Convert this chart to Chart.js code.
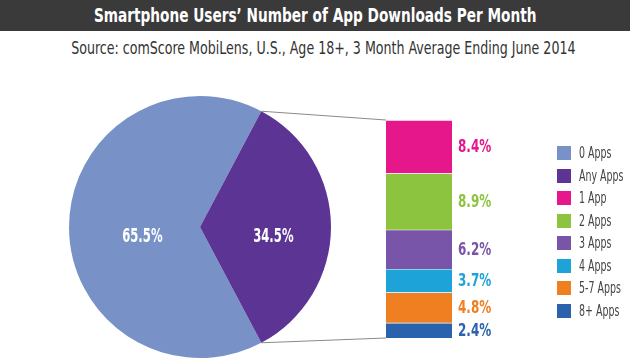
<!DOCTYPE html>
<html lang="en">
<head>
  <meta charset="UTF-8">
  <title>Smartphone Users' Number of App Downloads Per Month</title>
  <script src="https://cdn.jsdelivr.net/npm/chart.js"></script>
  <style>
    body { margin: 0; background: #fff; }
    #wrap { position: relative; width: 630px; height: 364px; overflow: hidden; background: #fff;
      font-family: "DejaVu Sans Condensed", "DejaVu Sans", sans-serif; }
    #head { position: absolute; left: 0; top: 0; width: 630px; height: 31px; background: #3a3a3a;
      color: #fff; font-weight: bold; font-size: 20px; line-height: 31px; text-align: center; white-space: nowrap; }
    #sub { position: absolute; left: 0; top: 37px; width: 630px; text-align: center;
      color: #333; font-size: 18px; white-space: nowrap; }
    .narrow { display: inline-block; transform: scaleX(0.76); }
    #sub .narrow { transform: scaleX(0.78); }
    canvas { position: absolute; }
    #pieCanvas { left: 0; top: 80px; }
    #barCanvas { left: 250px; top: 80px; }
    #legend { position: absolute; left: 557px; top: 142px; margin: 0; padding: 0; list-style: none;
      font-size: 15px; color: #444; white-space: nowrap; }
    #legend li { height: 22.5px; display: flex; align-items: center; }
    #legend span.sw { display: inline-block; width: 14px; height: 14px; margin-right: 8px; }
    #legend span.tx { display: inline-block; transform: scaleX(0.7); transform-origin: left center; }
  </style>
</head>
<body>
<div id="wrap">
  <div id="head"><span class="narrow">Smartphone Users’ Number of App Downloads Per Month</span></div>
  <div id="sub"><span class="narrow">Source: comScore MobiLens, U.S., Age 18+, 3 Month Average Ending June 2014</span></div>
  <canvas id="pieCanvas" width="370" height="284"></canvas>
  <canvas id="barCanvas" width="380" height="284"></canvas>
  <ul id="legend"></ul>
</div>
<script>
  // pie: share of users with no downloads vs any downloads
  const sliceLabels = ['0 Apps', 'Any Apps'];
  const sliceValues = [65.5, 34.5];
  const sliceColors = ['#7892c8', '#5c3494'];

  // breakdown of the "Any Apps" slice
  const appLabels = ['1 App', '2 Apps', '3 Apps', '4 Apps', '5-7 Apps', '8+ Apps'];
  const appValues = [8.4, 8.9, 6.2, 3.7, 4.8, 2.4];
  const appColors = ['#e5178b', '#8cc43f', '#7855a8', '#1ea3d8', '#f07f22', '#2b62ad'];

  const fontFamily = '"DejaVu Sans Condensed", "DejaVu Sans", sans-serif';

  // legend
  const legend = document.getElementById('legend');
  sliceLabels.concat(appLabels).forEach((name, i) => {
    const color = sliceColors.concat(appColors)[i];
    const li = document.createElement('li');
    li.innerHTML = '<span class="sw" style="background:' + color + '"></span><span class="tx">' + name + '</span>';
    legend.appendChild(li);
  });

  // squeezed text, the original uses a condensed face
  function narrowText(ctx, text, x, y, sx) {
    ctx.save();
    ctx.translate(x, y);
    ctx.scale(sx, 1);
    ctx.fillText(text, 0, 0);
    ctx.restore();
  }

  // Any Apps slice centred on 3 o'clock
  const total = sliceValues.reduce((a, b) => a + b, 0);
  const anyAngle = sliceValues[1] / total * 360;
  const rotation = 90 - anyAngle / 2 - sliceValues[0] / total * 360;

  const pieLabelPlugin = {
    id: 'pieLabels',
    afterDatasetsDraw(chart) {
      const ctx = chart.ctx;
      const meta = chart.getDatasetMeta(0);
      const frac = [0.44, 0.56];
      ctx.save();
      ctx.fillStyle = '#fff';
      ctx.font = 'bold 19px ' + fontFamily;
      ctx.textAlign = 'center';
      ctx.textBaseline = 'middle';
      meta.data.forEach((arc, i) => {
        const mid = (arc.startAngle + arc.endAngle) / 2;
        const x = arc.x + Math.cos(mid) * arc.outerRadius * frac[i];
        const y = arc.y + Math.sin(mid) * arc.outerRadius * frac[i] + 10;
        narrowText(ctx, sliceValues[i].toFixed(1) + '%', x, y, 0.68);
      });
      ctx.restore();
    }
  };

  const pieChart = new Chart(document.getElementById('pieCanvas'), {
    type: 'pie',
    data: {
      labels: sliceLabels,
      datasets: [{ data: sliceValues, backgroundColor: sliceColors, borderWidth: 0, hoverOffset: 0 }]
    },
    options: {
      responsive: false,
      animation: false,
      rotation: rotation,
      radius: 131,
      layout: { padding: { left: 60, right: 30, top: 10, bottom: 0 } },
      plugins: { legend: { display: false } }
    },
    plugins: [pieLabelPlugin]
  });

  const barExtrasPlugin = {
    id: 'barExtras',
    afterDatasetsDraw(chart) {
      const ctx = chart.ctx;
      ctx.save();
      let top = Infinity, bottom = -Infinity, left = 0, right = 0;
      ctx.font = 'bold 18px ' + fontFamily;
      ctx.textBaseline = 'middle';
      ctx.textAlign = 'left';
      chart.data.datasets.forEach((ds, i) => {
        const bar = chart.getDatasetMeta(i).data[0];
        const y0 = Math.min(bar.y, bar.base), y1 = Math.max(bar.y, bar.base);
        top = Math.min(top, y0);
        bottom = Math.max(bottom, y1);
        left = bar.x - bar.width / 2;
        right = bar.x + bar.width / 2;
        ctx.fillStyle = ds.backgroundColor;
        narrowText(ctx, ds.data[0].toFixed(1) + '%', right + 6, (y0 + y1) / 2 + 1, 0.74);
      });
      // connectors from the Any Apps slice to the stacked bar
      const arc = pieChart.getDatasetMeta(0).data[1];
      const pieCv = pieChart.canvas, barCv = chart.canvas;
      const dx = pieCv.offsetLeft - barCv.offsetLeft, dy = pieCv.offsetTop - barCv.offsetTop;
      const p1 = [arc.x + Math.cos(arc.startAngle) * arc.outerRadius + dx, arc.y + Math.sin(arc.startAngle) * arc.outerRadius + dy];
      const p2 = [arc.x + Math.cos(arc.endAngle) * arc.outerRadius + dx, arc.y + Math.sin(arc.endAngle) * arc.outerRadius + dy];
      ctx.strokeStyle = '#8a8a8a';
      ctx.lineWidth = 1;
      ctx.beginPath();
      ctx.moveTo(p1[0], p1[1]);
      ctx.lineTo(left, top);
      ctx.moveTo(p2[0], p2[1]);
      ctx.lineTo(left, bottom);
      ctx.stroke();
      ctx.restore();
    }
  };

  new Chart(document.getElementById('barCanvas'), {
    type: 'bar',
    data: {
      labels: ['Any Apps'],
      datasets: appLabels.map((name, i) => ({
        label: name,
        data: [appValues[i]],
        backgroundColor: appColors[i],
        borderColor: '#ffffff',
        borderWidth: { top: 1, bottom: 0, left: 0, right: 0 },
        borderSkipped: false
      }))
    },
    options: {
      responsive: false,
      animation: false,
      layout: { padding: { left: 136, right: 178, top: 40, bottom: 26 } },
      scales: {
        x: { stacked: true, display: false },
        y: { stacked: true, display: false, reverse: true, min: 0, max: appValues.reduce((a, b) => a + b, 0) }
      },
      datasets: { bar: { barPercentage: 1, categoryPercentage: 1 } },
      plugins: { legend: { display: false } }
    },
    plugins: [barExtrasPlugin]
  });
</script>
</body>
</html>
